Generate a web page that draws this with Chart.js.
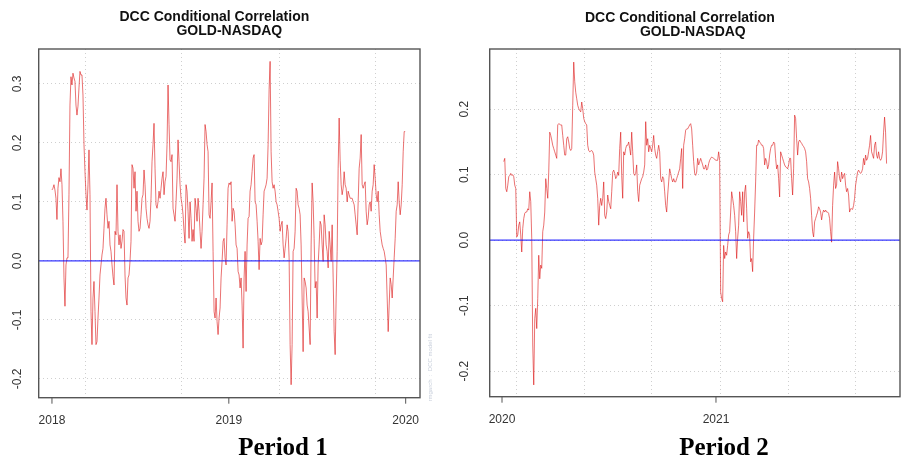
<!DOCTYPE html>
<html>
<head>
<meta charset="utf-8">
<script src="https://cdn.jsdelivr.net/npm/chart.js@4.4.1/dist/chart.umd.min.js"></script>
<style>
  html, body { margin: 0; padding: 0; background: #fff; }
  #wrap { position: relative; width: 909px; height: 461px; overflow: hidden; }
  canvas { position: absolute; top: 0; }
  .period { position: absolute; font: bold 25px "Liberation Serif", "Times New Roman", serif; color: #000;
            transform: translateX(-50%); white-space: nowrap; line-height: 28px; }
</style>
</head>
<body>
<div id="wrap">
  <canvas id="c1" width="450" height="461" style="left:0"></canvas>
  <canvas id="c2" width="459" height="461" style="left:450px"></canvas>
  <div class="period" style="left:283px; top:433px">Period 1</div>
  <div class="period" style="left:724px; top:433px">Period 2</div>
</div>
<script>
'use strict';

// ---- data: DCC conditional correlation GOLD-NASDAQ ----

// period 1 : daily values, Jan 2018 -> Dec 2019
const p1Start = '2018-01-01';
const p1End = '2019-12-31';
const p1Values = [
  0.12, 0.123, 0.129, 0.12, 0.106, 0.07, 0.123, 0.141, 0.134, 0.156,
  0.129, 0.067, -0.029, -0.077, -0.007, 0.005, 0.005, 0.112, 0.264, 0.312,
  0.298, 0.318, 0.31, 0.304, 0.264, 0.247, 0.262, 0.293, 0.321, 0.315,
  0.315, 0.281, 0.197, 0.151, 0.112, 0.086, 0.129, 0.188, 0.112, -0.086,
  -0.142, -0.063, -0.035, -0.086, -0.142, -0.137, -0.097, -0.063, -0.024, -0.007,
  0.01, 0.021, 0.055, 0.089, 0.106, 0.078, 0.055, 0.067, 0.027, 0.016,
  -0.007, -0.027, -0.041, 0.05, 0.044, 0.129, 0.05, 0.027, 0.044, 0.021,
  0.033, 0.053, 0.05, -0.024, -0.063, -0.075, -0.029, -0.024, -0.001, 0.033,
  0.163, 0.157, 0.123, 0.151, 0.084, 0.118, 0.067, 0.05, 0.055, 0.078,
  0.106, 0.112, 0.154, 0.129, 0.089, 0.072, 0.061, 0.055, 0.067, 0.106,
  0.168, 0.197, 0.233, 0.157, 0.095, 0.089, 0.1, 0.118, 0.106, 0.123,
  0.14, 0.151, 0.112, 0.134, 0.143, 0.197, 0.298, 0.231, 0.171, 0.168,
  0.18, 0.089, 0.078, 0.067, 0.1, 0.14, 0.205, 0.168, 0.129, 0.106,
  0.095, 0.078, 0.05, 0.03, 0.129, 0.118, 0.084, 0.038, 0.1, 0.072,
  0.033, 0.053, 0.033, 0.106, 0.089, 0.067, 0.106, 0.084, 0.05, 0.021,
  0.05, 0.095, 0.14, 0.231, 0.219, 0.197, 0.185, 0.078, 0.072, 0.1,
  0.132, 0.016, -0.086, -0.097, -0.063, -0.103, -0.125, -0.097, -0.08, -0.029,
  -0.001, 0.033, 0.038, 0.005, -0.007, 0.061,
  0.123, 0.132, 0.129, 0.134, 0.067, 0.089, 0.084, 0.061, 0.027, 0.021,
  -0.018, -0.024, -0.046, -0.029, -0.075, -0.148, -0.029, 0.016, -0.052, 0.027,
  0.072, 0.075, 0.118, 0.129, 0.151, 0.174, 0.18, 0.1, 0.095, 0.067,
  0.033, -0.015, 0.038, 0.027, 0.033, 0.078, 0.118, 0.123, 0.129, 0.14,
  0.197, 0.29, 0.338, 0.185, 0.134, 0.123, 0.129, 0.118, 0.1, 0.095,
  0.084, 0.072, 0.05, 0.061, 0.067, 0.027, 0.005, 0.021, 0.038, 0.061,
  0.05, 0.005, -0.142, -0.21, -0.142, 0.016, 0.021, 0.05, 0.123, 0.118,
  0.095, 0.089, 0.078, 0.027, -0.063, -0.154, -0.029, -0.035, -0.046, -0.075,
  -0.086, -0.114, -0.142, 0.027, 0.132, 0.1, 0.038, -0.046, -0.035, -0.097,
  -0.007, 0.027, 0.067, 0.061, 0.027, -0.001,
  0.078, 0.061, 0.027, 0.016, -0.012, 0.05, 0.027, -0.001, 0.061, -0.029,
  -0.12, -0.159, -0.063, 0.016, 0.157, 0.242, 0.17, 0.129, 0.112, 0.123,
  0.151, 0.129, 0.123, 0.1, 0.118, 0.112, 0.106, 0.106, 0.106, 0.1,
  0.095, 0.078, 0.061, 0.044, 0.1, 0.157, 0.174, 0.214, 0.129, 0.123,
  0.129, 0.134, 0.084, 0.061, 0.072, 0.095, 0.1, 0.084, 0.118, 0.129,
  0.163, 0.14, 0.112, 0.1, 0.118, 0.078, 0.05, 0.038, 0.027, 0.021,
  0.016, 0.005, -0.007, -0.063, -0.12, -0.075, -0.029, -0.04, -0.063, -0.029,
  0.005, 0.038, 0.084, 0.095, 0.134, 0.1, 0.078, 0.095, 0.129, 0.185,
  0.219, 0.219
];

// period 2 : daily values, Jan 2020 -> Oct 2021
const p2Start = '2020-01-04';
const p2End = '2021-10-19';
const p2Values = [
  0.12, 0.125, 0.079, 0.074, 0.084, 0.097, 0.099, 0.102, 0.099, 0.1,
  0.097, 0.084, 0.079, 0.005, 0.008, 0.023, 0.028, 0.008, -0.018, 0.018,
  0.033, 0.041, 0.043, 0.043, 0.048, 0.046, 0.074, 0.059, 0.003, -0.16,
  -0.221, -0.12, -0.104, -0.135, -0.089, -0.023, -0.059, -0.038, -0.043, 0.013,
  0.023, 0.043, 0.094, 0.079, 0.064, 0.104, 0.165, 0.16, 0.153, 0.145,
  0.14, 0.135, 0.13, 0.125, 0.176, 0.178, 0.177, 0.176, 0.176, 0.16,
  0.145, 0.13, 0.13, 0.155, 0.158, 0.15, 0.14, 0.137, 0.14, 0.206,
  0.272, 0.242, 0.226, 0.216, 0.206, 0.201, 0.198, 0.196, 0.211, 0.201,
  0.186, 0.181, 0.178, 0.176, 0.145, 0.137,
  0.135, 0.136, 0.137, 0.135, 0.13, 0.104, 0.094, 0.084, 0.064, 0.023,
  0.053, 0.064, 0.053, 0.064, 0.089, 0.038, 0.033, 0.043, 0.069, 0.059,
  0.053, 0.048, 0.074, 0.104, 0.107, 0.102, 0.094, 0.097, 0.104, 0.099,
  0.14, 0.165, 0.099, 0.064, 0.135, 0.13, 0.14, 0.145, 0.145, 0.15,
  0.14, 0.13, 0.165, 0.135, 0.102, 0.099, 0.102, 0.115, 0.074, 0.059,
  0.084, 0.089, 0.094, 0.097, 0.104, 0.115, 0.181, 0.145, 0.155, 0.135,
  0.145, 0.14, 0.135, 0.145, 0.16, 0.14, 0.13, 0.125, 0.135, 0.145,
  0.135, 0.094, 0.089, 0.097, 0.094, 0.074, 0.053, 0.043, 0.069, 0.089,
  0.109, 0.102, 0.094, 0.089, 0.094, 0.089, 0.089, 0.094, 0.099, 0.104,
  0.109, 0.125, 0.14, 0.079, 0.145, 0.155, 0.168, 0.17, 0.17, 0.173,
  0.176, 0.178, 0.17,
  0.145, 0.12, 0.102, 0.099, 0.104, 0.125, 0.115, 0.12, 0.125, 0.12,
  0.115, 0.109, 0.109, 0.115, 0.107, 0.109, 0.117, 0.122, 0.125, 0.127,
  0.126, 0.125, 0.124, 0.122, 0.122, 0.122, 0.135, 0.122, -0.079, -0.089,
  -0.094, -0.008, -0.028, -0.018, -0.023, -0.008, 0.008, 0.013, 0.043, 0.074,
  0.064, 0.053, 0.038, 0.013, -0.028, 0.003, 0.023, 0.074, 0.059, 0.038,
  0.074, 0.028, 0.074, 0.084, 0.048, 0.003, 0.013, 0.008, -0.033, -0.028,
  -0.048, 0.003, 0.043, 0.089, 0.145, 0.145, 0.153, 0.15, 0.148, 0.145,
  0.145, 0.14, 0.115, 0.125, 0.12, 0.109, 0.115, 0.13, 0.14, 0.145,
  0.145, 0.15, 0.148, 0.125, 0.109, 0.115, 0.094, 0.066, 0.135, 0.13,
  0.125, 0.12, 0.115, 0.112, 0.111, 0.109, 0.115, 0.125, 0.125, 0.094,
  0.069, 0.109, 0.191,
  0.186, 0.155, 0.13, 0.15, 0.153, 0.15, 0.148, 0.145, 0.143, 0.14,
  0.135, 0.12, 0.094, 0.089, 0.079, 0.064, 0.038, 0.013, 0.005, 0.028,
  0.033, 0.038, 0.043, 0.051, 0.048, 0.043, 0.031, 0.041, 0.046, 0.043,
  0.046, 0.043, 0.043, 0.041, 0.033, 0.013, -0.003, 0.053, 0.084, 0.104,
  0.079, 0.084, 0.12, 0.109, 0.094, 0.089, 0.104, 0.094, 0.099, 0.102,
  0.084, 0.074, 0.079, 0.069, 0.043, 0.048, 0.048, 0.047, 0.053, 0.064,
  0.084, 0.094, 0.104, 0.107, 0.104, 0.102, 0.104, 0.109, 0.125, 0.115,
  0.13, 0.122, 0.125, 0.135, 0.145, 0.16, 0.135, 0.13, 0.125, 0.145,
  0.15, 0.13, 0.125, 0.135, 0.125, 0.122, 0.125, 0.135, 0.165, 0.188,
  0.165, 0.117
];

// axes: year ticks, y ticks, dotted grid positions (decimal years)
const p1Years = [2018, 2019, 2020];
const p2Years = [2020, 2021];
const p1YTicks = [-0.2, -0.1, 0.0, 0.1, 0.2, 0.3];
const p2YTicks = [-0.2, -0.1, 0.0, 0.1, 0.2];
const p1GridX = [2018.188, 2018.733, 2019.285, 2019.830];
const p2GridX = [2020.069, 2020.385, 2020.700, 2021.019, 2021.338, 2021.654];
const p1Range = { xMin: 2017.925, xMax: 2020.081, yMin: -0.232, yMax: 0.359 };
const p2Range = { xMin: 2019.9425, xMax: 2021.86, yMin: -0.239, yMax: 0.292 };

const titleLine1 = 'DCC Conditional Correlation';
const titleLine2 = 'GOLD-NASDAQ';
const watermark = 'rmgarch  :  DCC model fit';

// ---- helpers ----
function toYear(str) {
    const d = new Date(str + 'T00:00:00Z');
    const y = d.getUTCFullYear();
    const a = Date.UTC(y, 0, 1), b = Date.UTC(y + 1, 0, 1);
    return y + (d.getTime() - a) / (b - a);
}

// trading days spread evenly between first and last date
function toPoints(values, start, end) {
    const x0 = toYear(start), x1 = toYear(end);
    const step = (x1 - x0) / (values.length - 1);
    return values.map((v, i) => ({ x: x0 + i * step, y: v }));
}

// R-style frame, axis labels, title, zero line
const panelPlugin = {
    id: 'panel',
    afterDatasetsDraw(chart) {
        const { ctx, chartArea: a, scales: { y } } = chart;
        const py = y.getPixelForValue(0);
        ctx.save();
        ctx.strokeStyle = 'rgba(20,20,255,0.85)';
        ctx.lineWidth = 1.3;
        ctx.beginPath();
        ctx.moveTo(a.left, py);
        ctx.lineTo(a.right, py);
        ctx.stroke();
        ctx.restore();
    },
    afterDraw(chart) {
        const { ctx, chartArea: a, scales: { x, y } } = chart;
        const o = chart.options.plugins.panel;
        ctx.save();

        // box
        ctx.strokeStyle = '#555';
        ctx.lineWidth = 1.4;
        ctx.strokeRect(a.left, a.top, a.right - a.left, a.bottom - a.top);

        // x axis: year ticks + labels
        ctx.fillStyle = '#333';
        ctx.font = '12px "Liberation Sans", Arial, sans-serif';
        ctx.textAlign = 'center';
        ctx.textBaseline = 'middle';
        ctx.lineWidth = 1;
        o.years.forEach(yr => {
            const px = x.getPixelForValue(yr);
            ctx.beginPath();
            ctx.moveTo(px, a.bottom);
            ctx.lineTo(px, a.bottom + 6);
            ctx.stroke();
            ctx.fillText(String(yr), px, a.bottom + 23);
        });

        // y axis labels, rotated like R
        o.yTicks.forEach(v => {
            const py = y.getPixelForValue(v);
            ctx.save();
            ctx.translate(a.left - o.yLabelOffset, py);
            ctx.rotate(-Math.PI / 2);
            ctx.fillText(v.toFixed(1), 0, 0);
            ctx.restore();
        });

        // title
        const cx = (a.left + a.right) / 2;
        ctx.fillStyle = '#111';
        ctx.font = 'bold 14px "Liberation Sans", Arial, sans-serif';
        ctx.fillText(titleLine1, cx - 15, o.titleY);
        ctx.fillText(titleLine2, cx - o.line2Shift, o.titleY + 14);

        // faint watermark on the right
        if (o.watermark) {
            ctx.save();
            ctx.translate(a.right + 10, a.bottom - 30);
            ctx.rotate(-Math.PI / 2);
            ctx.fillStyle = '#c9d0dc';
            ctx.font = '6px "Liberation Sans", Arial, sans-serif';
            ctx.fillText(watermark, 0, 0);
            ctx.restore();
        }
        ctx.restore();
    }
};

function makePanel(id, points, range, gridX, yTicks, years, pad, extra) {
    const gridStyle = { color: '#cfcfcf', lineWidth: 1, drawTicks: false };
    return new Chart(document.getElementById(id), {
        type: 'line',
        data: {
            datasets: [{
                data: points,
                borderColor: 'rgba(220,20,20,0.6)',
                borderWidth: 1,
                pointRadius: 0,
                tension: 0
            }]
        },
        options: {
            responsive: false,
            animation: false,
            devicePixelRatio: 1,
            layout: { padding: pad },
            plugins: {
                legend: { display: false },
                tooltip: { enabled: false },
                panel: Object.assign({ yTicks: yTicks, years: years }, extra)
            },
            scales: {
                x: {
                    type: 'linear', min: range.xMin, max: range.xMax,
                    afterBuildTicks: s => { s.ticks = gridX.map(v => ({ value: v })); },
                    afterFit: s => { s.height = 0; },
                    ticks: { display: false },
                    grid: gridStyle,
                    border: { display: false, dash: [1, 3] }
                },
                y: {
                    type: 'linear', min: range.yMin, max: range.yMax,
                    afterBuildTicks: s => { s.ticks = yTicks.map(v => ({ value: v })); },
                    afterFit: s => { s.width = 0; },
                    ticks: { display: false },
                    grid: gridStyle,
                    border: { display: false, dash: [1, 3] }
                }
            }
        },
        plugins: [panelPlugin]
    });
}

makePanel('c1', toPoints(p1Values, p1Start, p1End), p1Range, p1GridX, p1YTicks, p1Years,
    { left: 38.7, top: 49, right: 30, bottom: 63.3 },
    { yLabelOffset: 20.7, titleY: 17, line2Shift: 0, watermark: true });

makePanel('c2', toPoints(p2Values, p2Start, p2End), p2Range, p2GridX, p2YTicks, p2Years,
    { left: 39.7, top: 49, right: 9, bottom: 64.3 },
    { yLabelOffset: 24.7, titleY: 18.3, line2Shift: 2, watermark: false });
</script>
</body>
</html>
